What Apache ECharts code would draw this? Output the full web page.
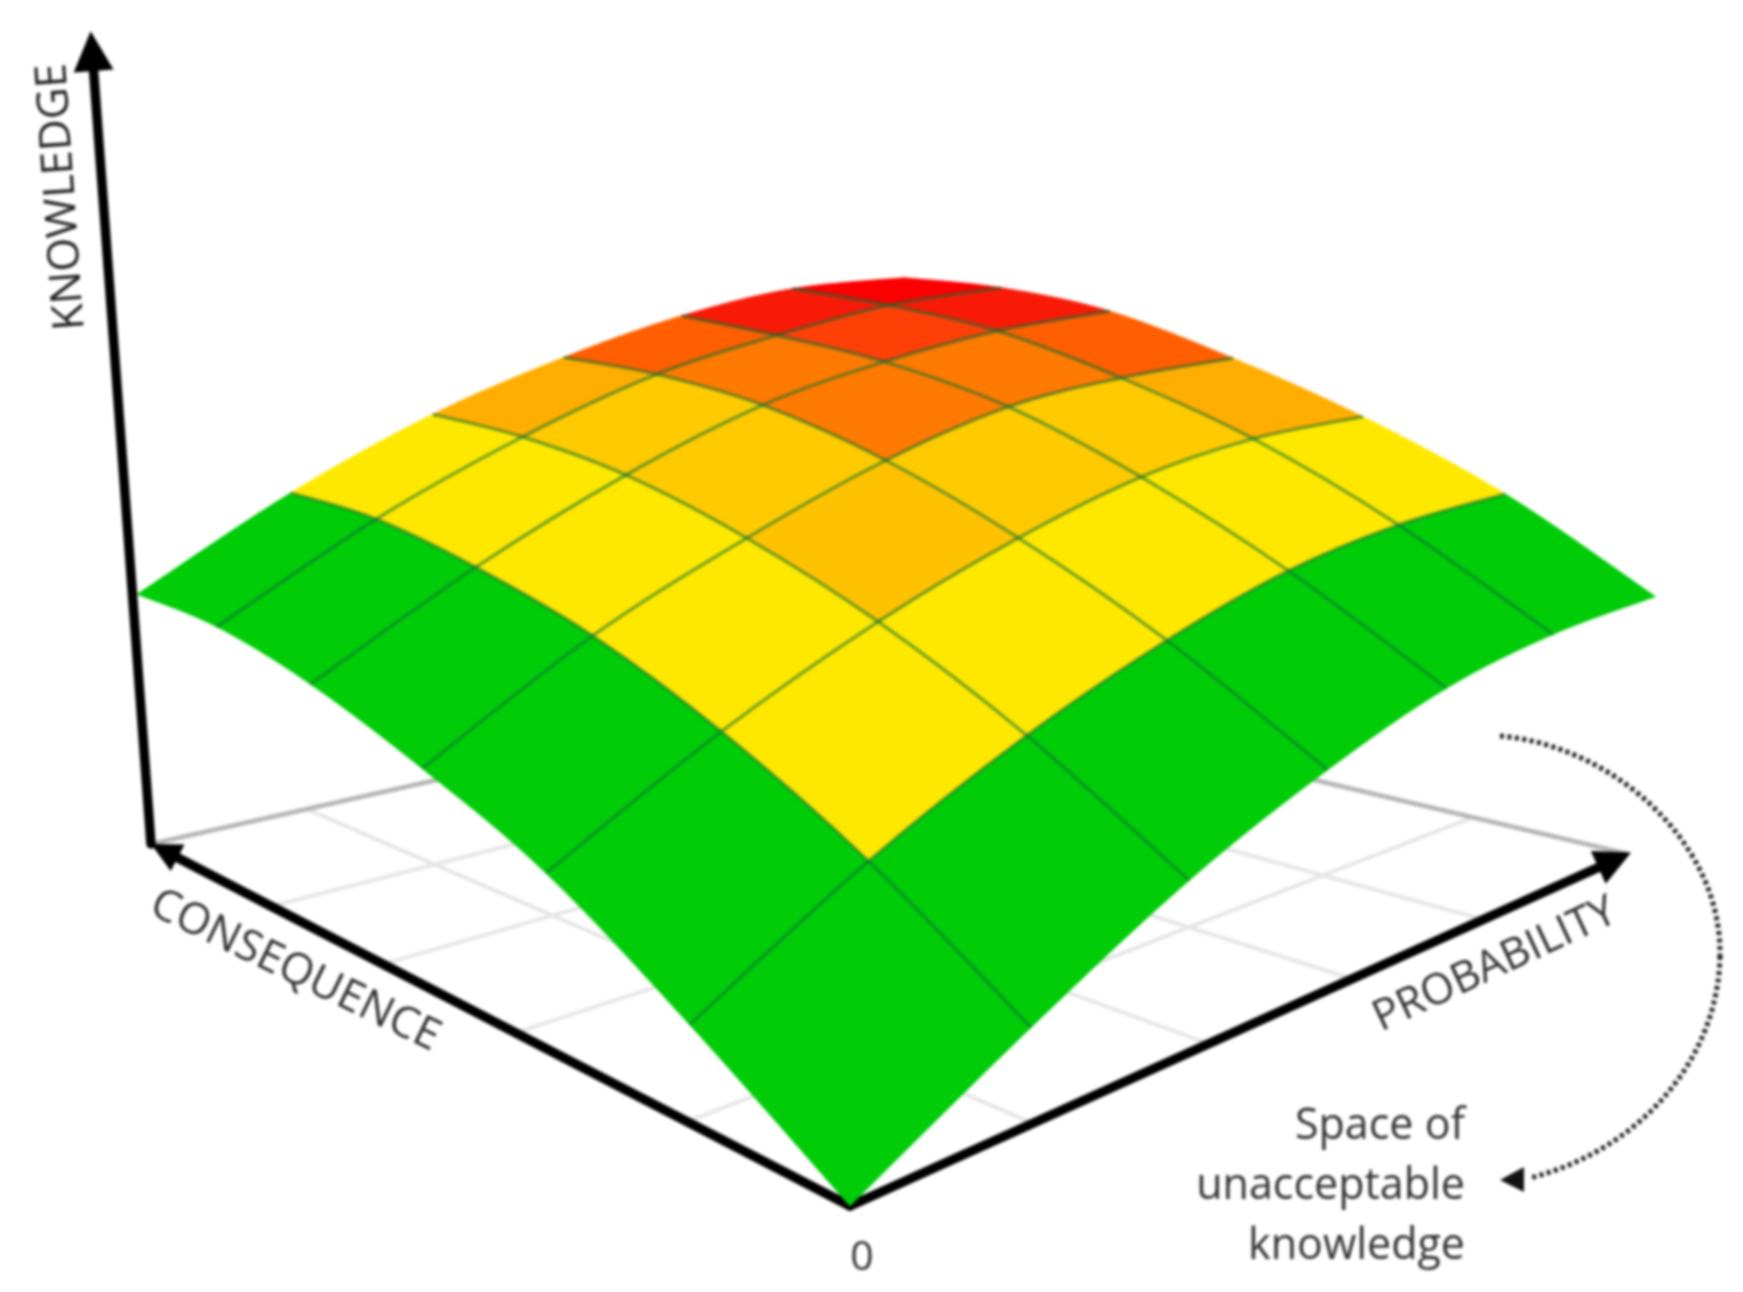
<!DOCTYPE html>
<html><head><meta charset="utf-8">
<script src="https://cdn.jsdelivr.net/npm/echarts@6/dist/echarts.min.js"></script>
<style>html,body{margin:0;padding:0;background:#fff}#c{width:1743px;height:1292px;filter:blur(1.4px)}</style>
</head><body><div id="c"></div>
<script>
// ---- data ----
const consequenceSteps=[0,0.1554,0.3176,0.4812,0.6526,0.8198,0.9844];
const probabilitySteps=[0,0.1656,0.3323,0.5002,0.6649,0.8337,1.02];
// knowledge[consequence index][probability index]
const knowledge=[
[0.000,0.090,0.172,0.235,0.282,0.307,0.317],
[0.093,0.192,0.272,0.335,0.382,0.409,0.421],
[0.179,0.276,0.356,0.420,0.468,0.495,0.504],
[0.237,0.341,0.421,0.489,0.537,0.559,0.571],
[0.286,0.387,0.472,0.540,0.582,0.612,0.629],
[0.317,0.419,0.501,0.567,0.608,0.641,0.658],
[0.326,0.430,0.515,0.579,0.628,0.660,0.669]];
const G='#00cc08',Y='#ffe800',A='#ffcb00',A2='#ffc200',A3='#ffae00',O1='#ff7a00',O2='#ff5f00',R1='#ff4006',R2='#f81a06',R3='#fb0000';
const cellColors=[
[G,G,G,G,G,G],
[G,Y,Y,Y,Y,Y],
[G,Y,A2,A,A,A3],
[G,Y,A,O1,O1,O2],
[G,Y,A,O1,R1,R2],
[G,Y,A3,O2,R2,R3]];
const consequenceFloorTicks=[0.161,0.367,0.56,0.753,1];
const probabilityFloorTicks=[0.168,0.36,0.545,0.742,1];
const axisNames=['CONSEQUENCE','PROBABILITY','KNOWLEDGE','0'];
const noteLines=['Space of','unacceptable','knowledge'];

// ---- camera: floor corners on the page and the vertical vanishing point ----
const cam=(function(){
  const O=[850,1206],L=[151,844],R=[1628,854],B=[887,679];
  const dx1=L[0]-B[0],dx2=R[0]-B[0],dy1=L[1]-B[1],dy2=R[1]-B[1];
  const sx=O[0]-L[0]+B[0]-R[0],sy=O[1]-L[1]+B[1]-R[1];
  const den=dx1*dy2-dx2*dy1,g=(sx*dy2-dx2*sy)/den,h=(dx1*sy-sx*dy1)/den;
  return {a:L[0]-O[0]+g*L[0],b:R[0]-O[0]+h*R[0],c:O[0],d:L[1]-O[1]+g*L[1],e:R[1]-O[1]+h*R[1],f:O[1],g,h,s:-0.12175,xv:966.2,yv:10625.9};
})();
function project(u,v,z){
  const t=z*cam.s,w=cam.g*u+cam.h*v+1+t;
  return [(cam.a*u+cam.b*v+cam.c+t*cam.xv)/w,(cam.d*u+cam.e*v+cam.f+t*cam.yv)/w];
}
function surfacePixels(api){
  return knowledge.map((row,i)=>row.map((z,j)=>api.coord(project(consequenceSteps[i],probabilitySteps[j],z))));
}
// smooth segment a->b on a polyline pts (index k to k+dir)
function seg(pts,k,dir){
  const n=pts.length-1,p=pts[k],q=pts[k+dir];
  const pp=pts[Math.max(0,Math.min(n,k-dir))],qq=pts[Math.max(0,Math.min(n,k+2*dir))];
  const c1=[p[0]+(q[0]-pp[0])/6,p[1]+(q[1]-pp[1])/6],c2=[q[0]-(qq[0]-p[0])/6,q[1]-(qq[1]-p[1])/6];
  return 'C'+c1[0].toFixed(2)+' '+c1[1].toFixed(2)+' '+c2[0].toFixed(2)+' '+c2[1].toFixed(2)+' '+q[0].toFixed(2)+' '+q[1].toFixed(2);
}
const cellData=[];
cellColors.forEach((row,i)=>row.forEach((c,j)=>cellData.push({value:[i,j],itemStyle:{color:c}})));
const lineData=[];
for(let k=1;k<=5;k++){lineData.push([0,k]);lineData.push([1,k]);}
const floorData=[];
consequenceFloorTicks.forEach(t=>floorData.push([0,t]));
probabilityFloorTicks.forEach(t=>floorData.push([1,t]));
floorData.sort((a,b)=>(a[1]===1)-(b[1]===1));
const axisData=[[0,0,0,1,0,0,30],[0,0,0,0,1.006,0,36],[1,0,0,0.984,0,0.995,40]];

const chart=echarts.init(document.getElementById('c'),null,{renderer:'canvas'});
chart.setOption({
  animation:false,
  backgroundColor:'#fff',
  grid:{left:0,right:0,top:0,bottom:0},
  xAxis:{type:'value',min:0,max:1743,show:false},
  yAxis:{type:'value',min:0,max:1292,inverse:true,show:false},
  tooltip:{show:false},
  series:[
   {type:'custom',name:'floor',coordinateSystem:'cartesian2d',silent:true,clip:false,z:1,data:floorData,
    renderItem(p,api){
      const dir=api.value(0),t=api.value(1);
      const a=api.coord(dir===0?project(t,0,0):project(0,t,0));
      const b=api.coord(dir===0?project(t,1,0):project(1,t,0));
      return {type:'line',shape:{x1:a[0],y1:a[1],x2:b[0],y2:b[1]},
        style:{stroke:t===1?'#b4b4b4':'#e6e6e6',lineWidth:t===1?4.5:4}};
    }},
   {type:'custom',name:'axes',coordinateSystem:'cartesian2d',silent:true,clip:false,z:2,data:axisData,
    renderItem(p,api){
      const s=api.coord(project(api.value(0),api.value(1),api.value(2)));
      const e=api.coord(project(api.value(3),api.value(4),api.value(5)));
      const h=api.value(6),dx=e[0]-s[0],dy=e[1]-s[1],l=Math.hypot(dx,dy),ux=dx/l,uy=dy/l;
      const bx=e[0]-ux*h,by=e[1]-uy*h,w=h*0.5;
      return {type:'group',children:[
        {type:'line',shape:{x1:s[0],y1:s[1],x2:bx,y2:by},style:{stroke:'#000',lineWidth:9.5,lineCap:'round'}},
        {type:'polygon',shape:{points:[e,[bx-uy*w,by+ux*w],[bx+uy*w,by-ux*w]]},style:{fill:'#000'}}
      ]};
    }},
   {type:'custom',name:'surface',coordinateSystem:'cartesian2d',silent:true,clip:false,z:3,data:cellData,
    renderItem(p,api){
      const P=surfacePixels(api),i=api.value(0),j=api.value(1);
      const colJ=r=>P.map(row=>row[r]);
      const d='M'+P[i][j][0]+' '+P[i][j][1]+
        seg(colJ(j),i,1)+seg(P[i+1],j,1)+seg(colJ(j+1),i+1,-1)+seg(P[i],j+1,-1)+'Z';
      const c=api.visual('color');
      return {type:'path',shape:{pathData:d},style:{fill:c,stroke:c,lineWidth:0.8}};
    }},
   {type:'custom',name:'mesh',coordinateSystem:'cartesian2d',silent:true,clip:false,z:4,data:lineData,
    renderItem(p,api){
      const P=surfacePixels(api),dir=api.value(0),k=api.value(1);
      const pts=dir===0?P[k]:P.map(r=>r[k]);
      let d='M'+pts[0][0]+' '+pts[0][1];
      for(let m=0;m<pts.length-1;m++)d+=seg(pts,m,1);
      return {type:'path',shape:{pathData:d},style:{fill:null,stroke:'rgba(10,110,50,0.58)',lineWidth:3.2}};
    }}
  ],
  graphic:{elements:[
    {type:'text',x:62,y:197,rotation:94*Math.PI/180,z:10,style:{text:axisNames[2],font:'43.5px "Open Sans"',fill:'#222',textAlign:'center',textVerticalAlign:'middle'}},
    {type:'text',x:295,y:971,rotation:-26*Math.PI/180,z:10,style:{text:axisNames[0],font:'43.5px "Open Sans"',fill:'#333',textAlign:'center',textVerticalAlign:'middle'}},
    {type:'text',x:1495,y:965,rotation:25*Math.PI/180,z:10,style:{text:axisNames[1],font:'43px "Open Sans"',fill:'#333',textAlign:'center',textVerticalAlign:'middle'}},
    {type:'text',x:862,y:1258,z:10,style:{text:axisNames[3],font:'41px "Open Sans"',fill:'#333',textAlign:'center',textVerticalAlign:'middle'}},
    {type:'text',x:1465,y:1127,z:10,style:{text:noteLines[0],font:'43px "Open Sans"',fill:'#333',textAlign:'right',textVerticalAlign:'middle'}},
    {type:'text',x:1465,y:1187,z:10,style:{text:noteLines[1],font:'43px "Open Sans"',fill:'#333',textAlign:'right',textVerticalAlign:'middle'}},
    {type:'text',x:1465,y:1247,z:10,style:{text:noteLines[2],font:'43px "Open Sans"',fill:'#333',textAlign:'right',textVerticalAlign:'middle'}},
    {type:'bezierCurve',z:10,shape:{x1:1500,y1:736,cpx1:1610,cpy1:745,cpx2:1722,cpy2:840,x2:1720,y2:956},style:{fill:null,stroke:'#222',lineWidth:5,lineDash:[4,3.5]}},
    {type:'bezierCurve',z:10,shape:{x1:1720,y1:956,cpx1:1718,cpy1:1060,cpx2:1640,cpy2:1150,x2:1530,y2:1178},style:{fill:null,stroke:'#222',lineWidth:5,lineDash:[4,3.5]}},
    {type:'polygon',z:10,shape:{points:[[1500,1180],[1524,1167],[1524,1192]]},style:{fill:'#111'}}
  ]}
});
</script></body></html>
